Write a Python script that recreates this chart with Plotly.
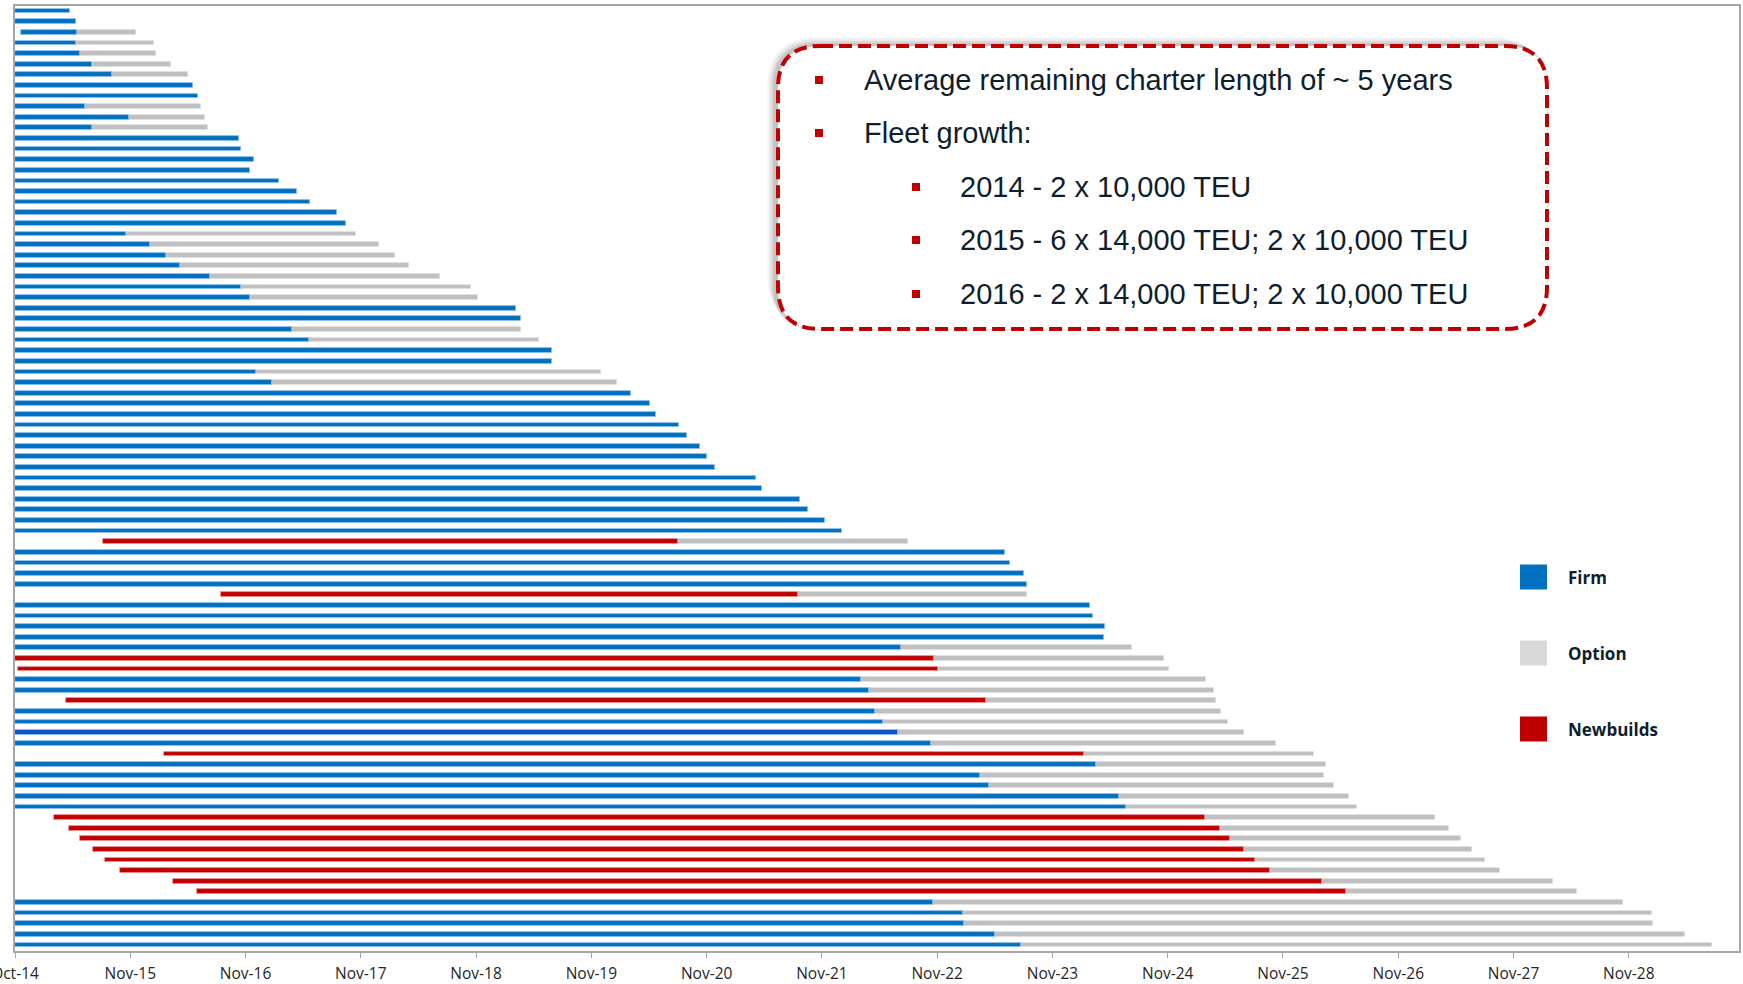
import plotly.graph_objects as go

# ---------------- data (years after Oct-14) ----------------
tick_labels = ["Oct-14", "Nov-15", "Nov-16", "Nov-17", "Nov-18", "Nov-19", "Nov-20",
               "Nov-21", "Nov-22", "Nov-23", "Nov-24", "Nov-25", "Nov-26", "Nov-27", "Nov-28"]

kind = ["F"] * 50 + ["N"] + ["F"] * 4 + ["N"] + ["F"] * 5 + ["N", "N", "F", "F", "N",
        "F", "F", "F", "F", "N", "F", "F", "F", "F", "F"] + ["N"] * 8 + ["F"] * 5

start = [0, 0, 0.05, 0, 0, 0, 0, 0, 0, 0,
         0, 0, 0, 0, 0, 0, 0, 0, 0, 0,
         0, 0, 0, 0, 0, 0, 0, 0, 0, 0,
         0, 0, 0, 0, 0, 0, 0, 0, 0, 0,
         0, 0, 0, 0, 0, 0, 0, 0, 0, 0,
         0.76, 0, 0, 0, 0, 1.79, 0, 0, 0, 0,
         0, 0, 0.03, 0, 0, 0.44, 0, 0, 0, 0,
         1.29, 0, 0, 0, 0, 0, 0.34, 0.47, 0.56, 0.68,
         0.78, 0.91, 1.37, 1.58, 0, 0, 0, 0, 0]

contract_end = [0.48, 0.53, 0.54, 0.53, 0.56, 0.67, 0.84, 1.54, 1.59, 0.61,
                0.99, 0.67, 1.94, 1.96, 2.07, 2.04, 2.29, 2.45, 2.56, 2.79,
                2.87, 0.96, 1.17, 1.31, 1.43, 1.69, 1.96, 2.04, 4.35, 4.39,
                2.40, 2.55, 4.66, 4.66, 2.09, 2.23, 5.34, 5.51, 5.56, 5.76,
                5.83, 5.94, 6.00, 6.07, 6.43, 6.48, 6.81, 6.88, 7.03, 7.17,
                5.75, 8.59, 8.63, 8.75, 8.78, 6.79, 9.33, 9.35, 9.46, 9.45,
                7.69, 7.97, 8.01, 7.34, 7.41, 8.42, 7.46, 7.53, 7.66, 7.95,
                9.27, 9.38, 8.37, 8.45, 9.58, 9.64, 10.32, 10.45, 10.54, 10.66,
                10.76, 10.89, 11.34, 11.55, 7.96, 8.22, 8.23, 8.50, 8.73]

option_end = [None, None, 1.05, 1.21, 1.22, 1.35, 1.50, None, None, 1.61,
              1.65, 1.67, None, None, None, None, None, None, None, None,
              None, 2.96, 3.16, 3.30, 3.42, 3.69, 3.96, 4.02, None, None,
              4.39, 4.55, None, None, 5.08, 5.22, None, None, None, None,
              None, None, None, None, None, None, None, None, None, None,
              7.75, None, None, None, None, 8.78, None, None, None, None,
              9.69, 9.97, 10.01, 10.33, 10.40, 10.42, 10.46, 10.52, 10.66, 10.94,
              11.27, 11.37, 11.36, 11.44, 11.57, 11.64, 12.32, 12.44, 12.54, 12.64,
              12.75, 12.88, 13.34, 13.55, 13.95, 14.20, 14.21, 14.49, 14.72]

rows = list(range(1, len(start) + 1))

note_lines = [
    ("Average remaining charter length of ~ 5 years", 0),
    ("Fleet growth:", 0),
    ("2014 - 2 x 10,000 TEU", 1),
    ("2015 - 6 x 14,000 TEU; 2 x 10,000 TEU", 1),
    ("2016 - 2 x 14,000 TEU; 2 x 10,000 TEU", 1),
]
legend_items = [("Firm", "#0070C0"), ("Option", "#D9D9D9"), ("Newbuilds", "#C00000")]

# ---------------- styling ----------------
W, H = 1743, 984
ML, MR, MT, MB = 15, 4, 6, 33
PW, PH = W - ML - MR, H - MT - MB

BLUE = "#0070C0"
BLUE_ALT = "#0A50CF"
GREY = "#BFBFBF"
RED = "#C00000"
TEXT = "#0F1E2D"
BAR_W = 0.45


def px(x):
    return (x - ML) / PW


def py(y):
    return 1 - (y - MT) / PH


fig = go.Figure()

firm_idx = [i for i in range(len(rows)) if kind[i] == "F"]
new_idx = [i for i in range(len(rows)) if kind[i] == "N"]
opt_idx = [i for i in range(len(rows)) if option_end[i] is not None]

firm_colors = [BLUE_ALT if rows[i] == 69 else BLUE for i in firm_idx]

fig.add_trace(go.Bar(
    orientation="h", name="Option",
    y=[rows[i] for i in opt_idx],
    base=[contract_end[i] for i in opt_idx],
    x=[option_end[i] - contract_end[i] for i in opt_idx],
    width=BAR_W, marker=dict(color=GREY, line=dict(color="rgba(225,225,225,0.9)", width=0.8)),
    hoverinfo="skip", showlegend=False))

fig.add_trace(go.Bar(
    orientation="h", name="Firm",
    y=[rows[i] for i in firm_idx],
    base=[start[i] for i in firm_idx],
    x=[contract_end[i] - start[i] for i in firm_idx],
    width=BAR_W, marker=dict(color=firm_colors, line=dict(color="rgba(150,195,235,0.9)", width=0.8)),
    hoverinfo="skip", showlegend=False))

fig.add_trace(go.Bar(
    orientation="h", name="Newbuilds",
    y=[rows[i] for i in new_idx],
    base=[start[i] for i in new_idx],
    x=[contract_end[i] - start[i] for i in new_idx],
    width=BAR_W, marker=dict(color=RED, line=dict(color="rgba(235,150,150,0.9)", width=0.8)),
    hoverinfo="skip", showlegend=False))

# ---------------- rounded dashed note box with shadow ----------------
def rounded(x0, y0, x1, y1, r):
    pts = [
        ("M", x0 + r, y0), ("L", x1 - r, y0), ("Q", x1, y0, x1, y0 + r),
        ("L", x1, y1 - r), ("Q", x1, y1, x1 - r, y1), ("L", x0 + r, y1),
        ("Q", x0, y1, x0, y1 - r), ("L", x0, y0 + r), ("Q", x0, y0, x0 + r, y0),
    ]
    s = ""
    for p in pts:
        cmd = p[0]
        coords = p[1:]
        conv = []
        for k in range(0, len(coords), 2):
            conv.append(f"{px(coords[k]):.5f},{py(coords[k + 1]):.5f}")
        s += cmd + " " + " ".join(conv) + " "
    return s + "Z"


BX0, BY0, BX1, BY1, BR = 778, 46, 1547, 329, 42
shapes = []
for k, op in enumerate([0.035, 0.05, 0.07, 0.09]):
    g = 9 - 2 * k
    shapes.append(dict(type="path", xref="paper", yref="paper",
                       path=rounded(BX0 - g - 2, BY0 - g, BX1 - g + 4, BY1 - g + 4, BR + g),
                       fillcolor=f"rgba(0,0,0,{op})", line=dict(width=0), layer="above"))
shapes.append(dict(type="path", xref="paper", yref="paper",
                   path=rounded(BX0, BY0, BX1, BY1, BR),
                   fillcolor="white", line=dict(color=RED, width=4, dash="13px,6px"),
                   layer="above"))

annotations = []
line_y = [80, 133, 187, 240, 294]
for (txt, lvl), yy in zip(note_lines, line_y):
    bx = 819 if lvl == 0 else 916
    tx = 862 if lvl == 0 else 958
    shapes.append(dict(type="rect", xref="paper", yref="paper",
                       x0=px(bx - 4), x1=px(bx + 4), y0=py(yy + 4), y1=py(yy - 4),
                       fillcolor=RED, line=dict(width=0), layer="above"))
    annotations.append(dict(xref="paper", yref="paper", x=px(tx), y=py(yy),
                            xanchor="left", yanchor="middle", showarrow=False, text=txt,
                            font=dict(family="Liberation Sans Narrow, Arial Narrow, Liberation Sans",
                                      size=29, color=TEXT)))

# ---------------- custom legend ----------------
leg_y = [577, 653, 729]
for (name, col), yy in zip(legend_items, leg_y):
    shapes.append(dict(type="rect", xref="paper", yref="paper",
                       x0=px(1520), x1=px(1547), y0=py(yy + 12.5), y1=py(yy - 12.5),
                       fillcolor=col, line=dict(width=0), layer="above"))
    annotations.append(dict(xref="paper", yref="paper", x=px(1566), y=py(yy),
                            xanchor="left", yanchor="middle", showarrow=False,
                            text=f"<b>{name}</b>",
                            font=dict(family="Open Sans", size=17, color=TEXT)))

fig.update_layout(
    width=W, height=H,
    margin=dict(l=ML, r=MR, t=MT, b=MB, autoexpand=False),
    paper_bgcolor="white", plot_bgcolor="white",
    barmode="overlay", bargap=0,
    showlegend=False,
    shapes=shapes, annotations=annotations,
    xaxis=dict(range=[0, 14.956], tickmode="array",
               tickvals=list(range(len(tick_labels))), ticktext=tick_labels,
               showgrid=False, zeroline=False, automargin=False,
               showline=True, linecolor="#A6A6A6", linewidth=1.5, mirror=True,
               ticks="outside", ticklen=5, tickcolor="#A6A6A6", tickwidth=1.2,
               ticklabeloverflow="allow", ticklabelstandoff=3,
               tickfont=dict(family="Open Sans", size=15.5, color="#262626")),
    yaxis=dict(range=[89.575, 0.519], showgrid=False, zeroline=False,
               showticklabels=False, ticks="", automargin=False,
               showline=True, linecolor="#A6A6A6", linewidth=1.5, mirror=True),
)

fig.write_html("out.html", config={"displayModeBar": False},
               post_script="document.body.style.margin='0';document.body.style.overflow='hidden';")
